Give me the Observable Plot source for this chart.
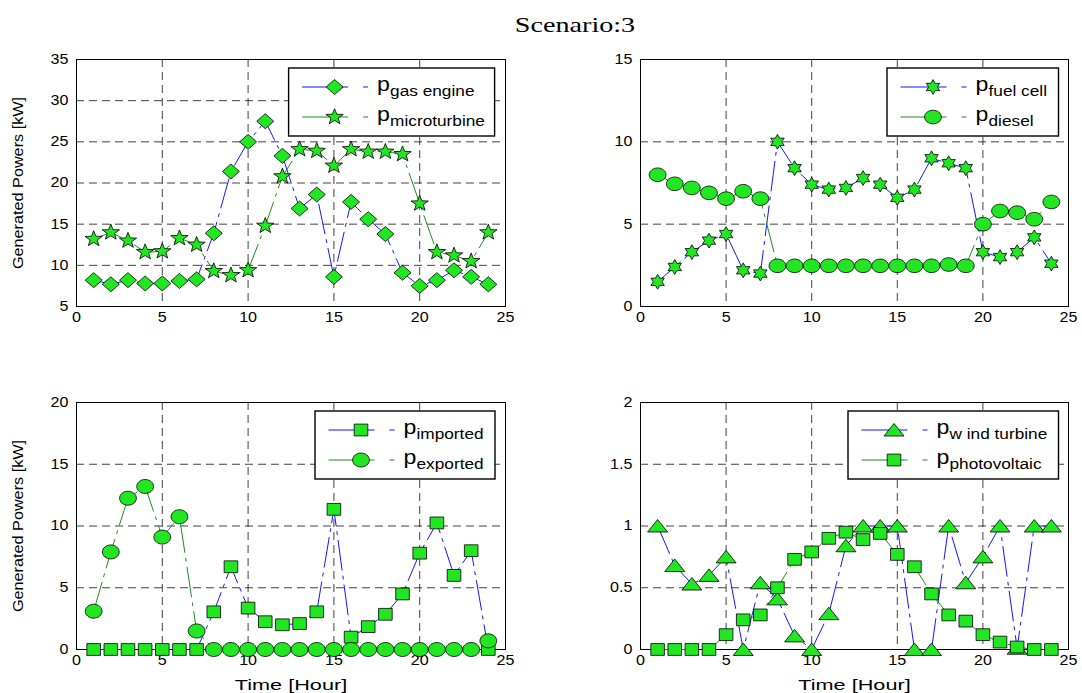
<!DOCTYPE html>
<html><head><meta charset="utf-8">
<script src="https://cdn.jsdelivr.net/npm/d3@7"></script>
<script src="https://cdn.jsdelivr.net/npm/@observablehq/plot@0.6"></script>
<style>
body{margin:0;background:#fff;}
#root{position:relative;width:1082px;height:693px;overflow:hidden;background:#fff;font-family:"Liberation Sans",Arial,sans-serif;}
.panel{position:absolute;}
#title{position:absolute;left:475px;width:200px;top:14px;line-height:22px;text-align:center;font-family:"Liberation Serif","Times New Roman",serif;font-size:22px;transform:scaleX(1.28);color:#000;}
#legends{position:absolute;left:0;top:0;}
</style></head>
<body><div id="root"><div id="title">Scenario:3</div></div>
<script>
// ---- data ----
const hours = [1,2,3,4,5,6,7,8,9,10,11,12,13,14,15,16,17,18,19,20,21,22,23,24];
const xTicks = [0,5,10,15,20,25];

const gasEngine    = [8.2,7.7,8.2,7.8,7.8,8.1,8.3,13.9,21.4,25.0,27.5,23.3,16.9,18.6,8.6,17.7,15.6,13.8,9.1,7.5,8.2,9.4,8.6,7.7];
const microturbine = [13.2,14.0,13.0,11.6,11.7,13.3,12.5,9.3,8.8,9.4,14.8,20.8,24.1,23.9,22.1,24.1,23.8,23.8,23.5,17.5,11.6,11.2,10.5,14.0];
const fuelCell     = [1.5,2.4,3.3,4.0,4.4,2.2,2.0,10.0,8.4,7.4,7.1,7.2,7.8,7.4,6.6,7.1,9.0,8.7,8.4,3.3,3.0,3.3,4.2,2.6];
const diesel       = [8.0,7.45,7.2,6.9,6.55,7.0,6.55,2.47,2.47,2.47,2.47,2.47,2.47,2.47,2.47,2.47,2.47,2.55,2.47,5.0,5.8,5.7,5.3,6.35];
const imported     = [0,0,0,0,0,0,0,3.05,6.7,3.35,2.25,2.0,2.1,3.05,11.35,1.0,1.85,2.85,4.5,7.8,10.25,6.0,8.0,0];
const exported     = [3.1,7.9,12.25,13.2,9.1,10.75,1.5,0,0,0,0,0,0,0,0,0,0,0,0,0,0,0,0,0.7];
const windTurbine  = [1,0.68,0.53,0.6,0.75,0,0.54,0.41,0.11,0,0.29,0.84,1,1,1,0,0,1,0.54,0.75,1,0.01,1,1];
const photovoltaic = [0,0,0,0,0.12,0.24,0.28,0.5,0.73,0.79,0.9,0.95,0.89,0.94,0.77,0.67,0.45,0.28,0.23,0.12,0.06,0.02,0,0];

const yTicksTL = [5,10,15,20,25,30,35];
const yTicksTR = [0,5,10,15];
const yTicksBL = [0,5,10,15,20];
const yTicksBR = [0,0.5,1,1.5,2];

const yLabel = "Generated Powers [kW]";
const xLabel = "Time [Hour]";

// ---- styles ----
const BLUE = "#1414ff", GREEN = "#1e8c1e", FILL = "#22e622";
const LINEDASH = "30,6,3,6";

// ---- marker symbols ----
function polySym(pts){ return {draw(c){ pts.forEach(([x,y],i)=> i ? c.lineTo(x,y) : c.moveTo(x,y)); c.closePath(); }}; }
function ellipseSym(rx, ry){ const k=0.5523; return {draw(c){
  c.moveTo(rx,0);
  c.bezierCurveTo(rx, ry*k, rx*k, ry, 0, ry);
  c.bezierCurveTo(-rx*k, ry, -rx, ry*k, -rx, 0);
  c.bezierCurveTo(-rx, -ry*k, -rx*k, -ry, 0, -ry);
  c.bezierCurveTo(rx*k, -ry, rx, -ry*k, rx, 0);
  c.closePath(); }}; }
function starPts(n, ro, ri, sx){ const p=[]; for(let i=0;i<2*n;i++){ const a=-Math.PI/2+i*Math.PI/n; const r=i%2?ri:ro; p.push([Math.cos(a)*r*sx, Math.sin(a)*r]); } return p; }
const diamondSym = polySym([[0,-7.5],[8.5,0],[0,7.5],[-8.5,0]]);
const pentaSym = polySym(starPts(5, 8.3, 3.4, 1.1));
const hexaSym = polySym(starPts(6, 7.4, 4.2, 1.05));
const circSymA = ellipseSym(8.4, 6.8);
const circSymB = ellipseSym(8.4, 7);
const squareSym = polySym([[-6.8,-5.9],[6.8,-5.9],[6.8,5.9],[-6.8,5.9]]);
const triSym = polySym([[0,-6.5],[10,6],[-10,6]]);

const root = document.getElementById("root");

function stretchTexts(svg){
  svg.querySelectorAll("text").forEach(el => {
    const s0 = el.textContent.trim();
    let s;
    if (s0 === xLabel) s = 1.4;
    else if (s0 === yLabel) s = 1.12;
    else if (/^[0-9.]+$/.test(s0)) s = 1.15;
    else return;
    const t = el.getAttribute("transform");
    if (t) el.setAttribute("transform", t + ` scale(${s},1)`);
    else { const x = +(el.getAttribute("x")||0); el.setAttribute("transform", `translate(${x},0) scale(${s},1) translate(${-x},0)`); }
  });
}

function panel(cfg){
  const rows = v => hours.map((h,i)=>({hour:h, value:v[i]}));
  const gridStyle = {stroke:"#111", strokeWidth:0.8, strokeDasharray:"8,5"};
  const marks = [
    Plot.ruleX(xTicks.slice(1,-1), gridStyle),
    Plot.ruleY(cfg.yticks.slice(1,-1), gridStyle),
    Plot.frame({stroke:"#000", strokeWidth:1})
  ];
  cfg.series.forEach(s => {
    marks.push(Plot.line(rows(s.values), {x:"hour", y:"value", stroke:s.color, strokeWidth:1, strokeDasharray:LINEDASH}));
    marks.push(Plot.dot(rows(s.values), {x:"hour", y:"value", symbol:s.sym, r:6, fill:FILL, stroke:"#000", strokeWidth:0.8}));
  });
  if (cfg.xlabel) marks.push(Plot.text([cfg.xlabel], {text:d=>d, frameAnchor:"bottom", dy:36, lineAnchor:"middle", fontSize:15.5}));
  if (cfg.ylabel) marks.push(Plot.text([cfg.ylabel], {text:d=>d, frameAnchor:"left", dx:-58, rotate:-90, lineAnchor:"middle", textAnchor:"middle", fontSize:14.5}));
  const chart = Plot.plot({
    width: cfg.width, height: cfg.height,
    marginLeft: cfg.ml, marginRight: cfg.mr, marginTop: cfg.mt, marginBottom: cfg.mb,
    style: {fontFamily:"Liberation Sans, Arial, sans-serif", fontSize:"14px", color:"#000", background:"transparent", overflow:"visible"},
    x: {domain:[0,25], ticks:xTicks, tickSize:0, tickPadding:6, label:null, tickFormat:d=>String(d)},
    y: {domain:[cfg.yticks[0], cfg.yticks[cfg.yticks.length-1]], ticks:cfg.yticks, tickSize:0, tickPadding:8, label:null, tickFormat:d=>String(d)},
    marks
  });
  stretchTexts(chart);
  const div = document.createElement("div");
  div.className = "panel";
  div.style.left = cfg.left + "px"; div.style.top = cfg.top + "px";
  div.appendChild(chart);
  root.appendChild(div);
}

panel({left:0, top:40, width:541, height:300, ml:76, mr:36, mt:19, mb:34, yticks:yTicksTL, ylabel:yLabel,
  series:[{values:gasEngine, color:BLUE, sym:diamondSym},{values:microturbine, color:GREEN, sym:pentaSym}]});
panel({left:541, top:40, width:541, height:300, ml:99, mr:14, mt:19, mb:34, yticks:yTicksTR,
  series:[{values:fuelCell, color:BLUE, sym:hexaSym},{values:diesel, color:GREEN, sym:circSymA}]});
panel({left:0, top:380, width:541, height:313, ml:76, mr:36, mt:22, mb:44, yticks:yTicksBL, ylabel:yLabel, xlabel:xLabel,
  series:[{values:imported, color:BLUE, sym:squareSym},{values:exported, color:GREEN, sym:circSymB}]});
panel({left:541, top:380, width:541, height:313, ml:99, mr:14, mt:22, mb:44, yticks:yTicksBR, xlabel:xLabel,
  series:[{values:windTurbine, color:BLUE, sym:triSym},{values:photovoltaic, color:GREEN, sym:squareSym}]});

// ---- legends ----
const legends = [
  {x:288.6, y:68, w:206, h:68, items:[{color:BLUE, sym:diamondSym, sub:"gas engine"},{color:GREEN, sym:pentaSym, sub:"microturbine"}]},
  {x:887, y:68, w:171.5, h:68, items:[{color:BLUE, sym:hexaSym, sub:"fuel cell"},{color:GREEN, sym:circSymA, sub:"diesel"}]},
  {x:315, y:411, w:180, h:68, items:[{color:BLUE, sym:squareSym, sub:"imported"},{color:GREEN, sym:circSymB, sub:"exported"}]},
  {x:848, y:411, w:210.5, h:68, items:[{color:BLUE, sym:triSym, sub:"w ind turbine"},{color:GREEN, sym:squareSym, sub:"photovoltaic"}]}
];
const lsvg = d3.create("svg").attr("id","legends").attr("width",1082).attr("height",693)
  .style("font-family","Liberation Sans, Arial, sans-serif");
legends.forEach(L => {
  const g = lsvg.append("g").attr("transform",`translate(${L.x},${L.y})`);
  g.append("rect").attr("width",L.w).attr("height",L.h).attr("fill","#fff").attr("stroke","#000").attr("stroke-width",1.4);
  L.items.forEach((it,i) => {
    const ry = i ? 49 : 19;
    g.append("line").attr("x1",13.5).attr("x2",59.5).attr("y1",ry).attr("y2",ry).attr("stroke",it.color).attr("stroke-width",1);
    g.append("line").attr("x1",74.5).attr("x2",79.5).attr("y1",ry).attr("y2",ry).attr("stroke",it.color).attr("stroke-width",1);
    g.append("path").attr("d", d3.symbol(it.sym, 36)()).attr("transform",`translate(46,${ry})`)
      .attr("fill",FILL).attr("stroke","#000").attr("stroke-width",0.8);
    g.append("text").attr("transform",`translate(88.5,${ry+3.5}) scale(1.1,1)`).attr("font-size",21).text("p");
    g.append("text").attr("transform",`translate(101.5,${ry+9}) scale(1.15,1)`).attr("font-size",15).text(it.sub);
  });
});
root.appendChild(lsvg.node());
</script></body></html>
